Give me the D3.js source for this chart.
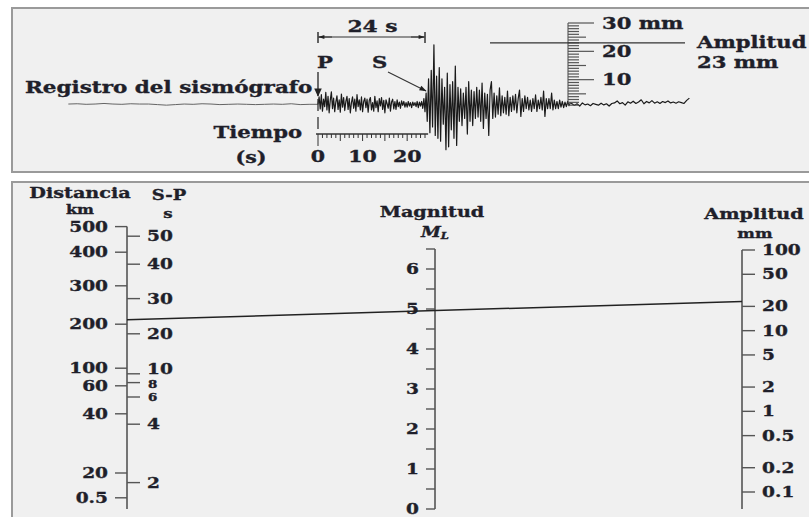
<!DOCTYPE html>
<html>
<head>
<meta charset="utf-8">
<script src="https://cdn.jsdelivr.net/npm/d3@7"></script>
<style>
  body { margin: 0; background: #fff; }
  svg text { font-family: "DejaVu Serif", serif; font-weight: bold; fill: #1f1f2a;
             stroke: #1f1f2a; stroke-width: 0.35px; }
</style>
</head>
<body>
<svg id="chart" width="809" height="517"></svg>
<script>
/* ---- Seismogram (top panel) ---- */
const timeLabels   = [0, 10, 20];          // s
const spInterval   = 24;                   // S-P, s
const rulerLabels  = [30, 20, 10];         // mm
const readAmplitude = 23;                  // mm
const traceBaseline = 1.3;                 // mm, where the quiet trace sits on the ruler

// trace samples (mm around the baseline)
const preP = [0.1,0.2,0.0,0.1,0.3,0.1,0.0,0.2,0.1,0.1,-0.1,-0.3,-0.1,0.1,0.0,0.2,0.1,-0.1,0.0,0.1,0.0,-0.1,0.0,0.1,0.0,0.2,-0.1,0.0];
const pCoda = [
  0.0, 2.6,-1.6, 3.4,-2.4, 1.8,-0.8, 4.2,-2.0, 2.8,
 -3.0, 1.4, 4.4,-1.5, 2.2,-2.6, 0.8, 3.0,-1.8, 1.6,
 -2.8, 3.6,-1.0, 2.4,-2.2, 1.0, 2.8,-1.8, 2.0,-3.0,
  0.6, 2.6,-1.4, 1.8,-2.4, 3.4,-0.8, 1.6,-2.0, 2.6,
 -2.6, 1.0, 2.2,-1.2, 1.8,-2.8, 1.4, 2.4,-2.0, 0.6,
 -2.4, 2.8,-1.2, 1.2,-2.6, 2.0,-0.6, 2.4,-1.8, 1.4,
 -3.0, 1.6, 0.2,-1.4, 2.2,-2.4, 0.8, 1.8,-1.6, 1.0,
 -1.8, 1.6,-0.8, 0.8,-1.4, 1.2,-0.4, 1.0,-1.0, 0.6,
 -1.0, 1.0,-0.6, 0.6,-1.2, 0.8,-0.4, 0.6,-0.8, 1.0,
 -1.2, 0.8,-0.6, 1.0,-1.4, 2.0,-2.6, 4.0];
const sWaves = [
 -6, 9,-10, 12,-8, 21,-11, 10,-12, 13,
 -13, 9,-7, 6,-16, 11,-15, 7,-9, 8,
 -12, 13.5,-14.5, 6,-6, 5.5,-7.5, 4,-5, 6,
 -10.5, 8,-6, 5,-7.5, 4.5,-5, 6,-4.5, 5,
 -6, 7.5,-8.5, 4,-5, 3.5,-11, 5, 8,-5,
  4,-4.5, 3,-3.5, 5.8,-4, 3,-3, 2.5,-3.5,
  4.7,-4, 2.5,-2.5, 3,-2, 3.5,-3, 2, 5,
 -4.3, 2,-2.5, 3,-1.5, 2.5,-2, 1.5,-2.5, 2,
 -1.5, 3.3,-2.5, 1.5,-1.5, 2.5,-2, 4.7,-4.3, 2,
 -1.5, 2,-1.5, 4,-2, 1.5,-1.5, 1,-1.5, 1.5,
 -1, 1,-1.2, 0.8,-0.8, 1,-0.5, 0.6];
const tail = [
  0.3,-0.4, 0.2,-0.6, 0.5,-0.2, 0.1,-0.5, 0.3, 0.0,
 -0.3, 0.4,-0.2, 0.2,-0.6, 0.3, 0.5, 1.2, 0.2, 0.6,
 -0.3, 0.9, 0.4, 1.1, 0.3, 0.8, 1.6, 0.2, 1.0, 0.5,
  1.3, 0.4, 0.9, 0.3, 1.0, 0.6, 1.2, 0.5, 0.8, 0.4,
  0.9, 0.6, 0.3, 1.4, 2.2];
const traceSegments = [
  { t0: 0,    dt: 0.25, v: pCoda },
  { t0: 24.5, dt: 0.3,  v: sWaves },
  { t0: 56.9, dt: 0.6,  v: tail }
];

/* ---- Nomogram (bottom panel) ---- */
const distanceLabels = ['500', '400', '300', '200', '100', '60', '40', '20', '0.5'];
const distanceNomo   = [4.75, 4.43, 4.01, 3.53, 2.98, 2.76, 2.41, 1.67, 1.36];
const spLabels       = [50, 40, 30, 20, 10, 8, 6, 4, 2];
const spNomo         = [4.63, 4.28, 3.85, 3.41, 2.91, 2.80, 2.62, 2.28, 1.55];
const magnitudeLabels = [0, 1, 2, 3, 4, 5, 6];
const magnitudeTop   = 6.5;
const amplitudeLabels = [100, 50, 20, 10, 5, 2, 1, 0.5, 0.2, 0.1];

const WIDEN = 1.28;   // the print face is much wider than DejaVu Serif

const svg = d3.select('#chart');

const defs = svg.append('defs');
defs.append('marker').attr('id', 'arr')
  .attr('viewBox', '0 0 10 10').attr('refX', 9).attr('refY', 5)
  .attr('markerWidth', 7).attr('markerHeight', 6).attr('orient', 'auto')
  .append('path').attr('d', 'M0,1.5 L10,5 L0,8.5 Z').attr('fill', '#222');
defs.append('marker').attr('id', 'arrBig')
  .attr('viewBox', '0 0 10 10').attr('refX', 9).attr('refY', 5)
  .attr('markerWidth', 6).attr('markerHeight', 6).attr('orient', 'auto')
  .append('path').attr('d', 'M0,0.5 L10,5 L0,9.5 Z').attr('fill', '#222');

// panels
svg.append('rect').attr('x', 12).attr('y', 8).attr('width', 830).attr('height', 164)
  .attr('fill', '#f0f0f0').attr('stroke', '#9a9a9a').attr('stroke-width', 2);
svg.append('rect').attr('x', 12).attr('y', 182).attr('width', 830).attr('height', 360)
  .attr('fill', '#f0f0f0').attr('stroke', '#9a9a9a').attr('stroke-width', 2);

function txt(g, x, y, s, size, anchor) {
  return g.append('text').attr('x', x).attr('y', y)
    .attr('font-size', size).attr('text-anchor', anchor || 'start').text(s);
}

/* ================= top panel ================= */
const seisG = svg.append('g');
const tX  = d3.scaleLinear().domain([0, 24]).range([318, 425]);
const mmY = d3.scaleLinear().domain([0, 30]).range([108, 23]);

// pre-P quiet trace
const traceLine = d3.line().x(d => tX(d[0])).y(d => mmY(d[1] + traceBaseline));
const prePts = preP.map((v, i) => [-56 + 2 * i, v]).concat([[0, 0]]);
seisG.append('path').attr('d', traceLine(prePts))
  .attr('fill', 'none').attr('stroke', '#555').attr('stroke-width', 0.9);

// main trace
const trPts = [];
traceSegments.forEach(s => s.v.forEach((v, i) => trPts.push([s.t0 + s.dt * i, v])));
seisG.append('path').attr('d', traceLine(trPts))
  .attr('fill', 'none').attr('stroke', '#1a1a1a').attr('stroke-width', 1.2)
  .attr('stroke-linejoin', 'round');

// 24 s dimension
const dimY = 37;
seisG.append('line').attr('x1', tX(0)).attr('x2', tX(spInterval)).attr('y1', dimY).attr('y2', dimY)
  .attr('stroke', '#333').attr('stroke-width', 1.2);
[[tX(0) + 14, tX(0) + 1], [tX(spInterval) - 14, tX(spInterval) - 1]].forEach(([a, b]) => {
  seisG.append('line').attr('x1', a).attr('x2', b).attr('y1', dimY).attr('y2', dimY)
    .attr('stroke', '#333').attr('marker-end', 'url(#arr)');
});
[tX(0), tX(spInterval)].forEach(x => seisG.append('line')
  .attr('x1', x).attr('x2', x).attr('y1', 32).attr('y2', 43)
  .attr('stroke', '#333').attr('stroke-width', 1.5));
txt(seisG, (tX(0) + tX(spInterval)) / 2 + 1, 32, spInterval + ' s', 17, 'middle');

// P and S arrows
txt(seisG, tX(0) - 1, 68, 'P', 16.5);
txt(seisG, 372, 68, 'S', 16.5);
seisG.append('line').attr('x1', tX(0)).attr('x2', tX(0)).attr('y1', 72).attr('y2', 96)
  .attr('stroke', '#333').attr('stroke-width', 1.4).attr('marker-end', 'url(#arrBig)');
seisG.append('line').attr('x1', 388).attr('y1', 72).attr('x2', tX(spInterval) + 1).attr('y2', 91)
  .attr('stroke', '#333').attr('stroke-width', 1.2).attr('marker-end', 'url(#arr)');
seisG.append('line').attr('x1', tX(0)).attr('x2', tX(0)).attr('y1', 99).attr('y2', 131)
  .attr('stroke', '#333').attr('stroke-width', 1.3).attr('stroke-dasharray', '12,6');

txt(seisG, 25, 93, 'Registro del sismógrafo', 16.8);

// time ruler
const axY = 134;
seisG.append('line').attr('x1', tX(0) - 2).attr('x2', tX(24.7)).attr('y1', axY).attr('y2', axY)
  .attr('stroke', '#333').attr('stroke-width', 1.3);
d3.range(0, 25).forEach(t => {
  const len = t === 0 ? 12 : (t % 5 === 0 ? 7 : 4);
  seisG.append('line').attr('x1', tX(t)).attr('x2', tX(t)).attr('y1', axY).attr('y2', axY + len)
    .attr('stroke', '#333').attr('stroke-width', 1);
});
timeLabels.forEach(t => txt(seisG, tX(t), 162, t, 16, 'middle'));
txt(seisG, 302, 138, 'Tiempo', 16.5, 'end');
txt(seisG, 251, 163, '(s)', 16, 'middle');

// amplitude ruler
const rx = 568;
seisG.append('line').attr('x1', rx).attr('x2', rx).attr('y1', mmY(30)).attr('y2', mmY(1))
  .attr('stroke', '#444').attr('stroke-width', 1);
d3.range(1, 31).forEach(m => {
  const len = m % 10 === 0 ? 26 : (m % 5 === 0 ? 18 : 11);
  seisG.append('line').attr('x1', rx).attr('x2', rx + len).attr('y1', mmY(m)).attr('y2', mmY(m))
    .attr('stroke', '#555').attr('stroke-width', 1.2);
});
rulerLabels.forEach(m => txt(seisG, 602, mmY(m) + 5.5, m === 30 ? m + ' mm' : m, 16.5));

seisG.append('line').attr('x1', 490).attr('x2', 685).attr('y1', mmY(readAmplitude)).attr('y2', mmY(readAmplitude))
  .attr('stroke', '#333').attr('stroke-width', 1.2);
txt(seisG, 697, 48, 'Amplitud', 16.5);
txt(seisG, 697, 68, readAmplitude + ' mm', 16.5);

/* ================= bottom panel ================= */
const bot = svg.append('g');
const xDist = 127, xMag = 435, xAmp = 742;
const corrY = d3.scaleLinear().domain([1, 5]).range([526.6, 206.6]);
const magY  = d3.scaleLinear().domain([0, 6]).range([509, 269]);
const ampY  = d3.scaleLog().domain([0.1, 100]).range([492, 250]);
const spToNomo = d3.scaleLinear().domain(spLabels).range(spNomo);

const axisStroke = '#555';
function vline(x, y1, y2) {
  bot.append('line').attr('x1', x).attr('x2', x).attr('y1', y1).attr('y2', y2)
    .attr('stroke', axisStroke).attr('stroke-width', 1.6);
}
function hline(x1, x2, y) {
  bot.append('line').attr('x1', x1).attr('x2', x2).attr('y1', y).attr('y2', y)
    .attr('stroke', axisStroke).attr('stroke-width', 1.4);
}

// distance / S-P
vline(xDist, corrY(distanceNomo[0]), magY(0));
distanceLabels.forEach((lab, i) => {
  const y = corrY(distanceNomo[i]);
  hline(xDist - 12, xDist, y);
  txt(bot, 108, y + 5, lab, 14.5, 'end');
});
// "10", "8", "6" are crowded: nudge them apart as printed
const spNudge = { 10: 0, 8: 5, 6: 3.8 };
spLabels.forEach((s, i) => {
  const y = corrY(spNomo[i]);
  hline(xDist, xDist + 13, y);
  const small = s === 8 || s === 6;
  txt(bot, small ? 148 : 147, y + (spNudge[s] !== undefined ? spNudge[s] : 5), s, small ? 10.5 : 14.5);
});
txt(bot, 80, 198, 'Distancia', 15, 'middle');
txt(bot, 80, 214, 'km', 12.5, 'middle');
txt(bot, 169, 200, 'S-P', 14, 'middle');
txt(bot, 168, 218, 's', 13, 'middle');

// magnitude
vline(xMag, magY(magnitudeTop), magY(0));
d3.range(0, magnitudeTop + 0.01, 0.5).forEach(m => hline(xMag - 9, xMag, magY(m)));
magnitudeLabels.forEach(m => txt(bot, 419, magY(m) + 5, m, 14.5, 'end'));
txt(bot, 432, 217, 'Magnitud', 15, 'middle');
const ml = bot.append('text').attr('x', 435).attr('y', 237).attr('font-size', 14)
  .attr('text-anchor', 'middle').attr('font-style', 'italic');
ml.append('tspan').text('M');
ml.append('tspan').attr('font-size', 9).attr('dy', 2).text('L');

// amplitude
vline(xAmp, ampY(100), magY(0));
amplitudeLabels.forEach(a => {
  hline(xAmp, xAmp + 13, ampY(a));
  txt(bot, 762, ampY(a) + 5, a, 14.5);
});
txt(bot, 754, 219, 'Amplitud', 15, 'middle');
txt(bot, 755, 238, 'mm', 13, 'middle');

// reading line
bot.append('line')
  .attr('x1', xDist).attr('y1', corrY(spToNomo(spInterval)))
  .attr('x2', xAmp).attr('y2', ampY(readAmplitude))
  .attr('stroke', '#222').attr('stroke-width', 1.5);

// widen all text to match the broad print face
svg.selectAll('text').each(function () {
  const w = this.getComputedTextLength();
  d3.select(this).attr('textLength', w * WIDEN).attr('lengthAdjust', 'spacingAndGlyphs');
});
</script>
</body>
</html>
